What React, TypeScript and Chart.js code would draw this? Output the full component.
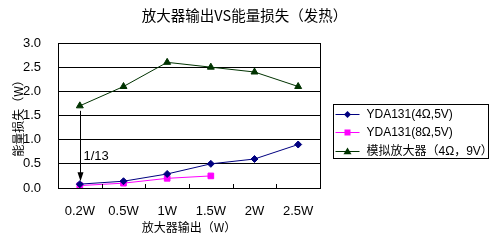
import React, { useEffect, useRef } from "react";
import { Chart, registerables } from "chart.js";

Chart.register(...registerables);

const TITLE = "放大器输出VS能量损失（发热）";
const X_TITLE = "放大器输出（W）";
const Y_TITLE = "能量损失（W）";
const CATEGORIES = ["0.2W", "0.5W", "1W", "1.5W", "2W", "2.5W"];
const SERIES_LABELS = ["YDA131(4Ω,5V)", "YDA131(8Ω,5V)", "模拟放大器（4Ω，9V）"];
const YDA_4OHM = [0.08, 0.14, 0.29, 0.5, 0.6, 0.9];
const YDA_8OHM = [0.05, 0.1, 0.2, 0.25, null, null];
const ANALOG = [1.7, 2.1, 2.6, 2.5, 2.4, 2.1];
const Y_MIN = 0;
const Y_MAX = 3;
const Y_STEP = 0.5;
const ANNOTATION_TEXT = "1/13";
const ANNOTATION_INDEX = 0;
const ANNOTATION_FROM = ANALOG[0];
const ANNOTATION_TO = YDA_4OHM[0];
const ANNOTATION_TEXT_Y = 0.66;

const LATIN = "'Liberation Sans', Arial, sans-serif";
const CJK = "'Noto Sans CJK SC', sans-serif";
const MIXED = "'Liberation Sans', 'Noto Sans CJK SC', sans-serif";

function drawMarker(ctx: CanvasRenderingContext2D, style: string, x: number, y: number, r: number, color: string) {
  ctx.save();
  ctx.fillStyle = color;
  ctx.beginPath();
  if (style === "rectRot") {
    ctx.moveTo(x, y - r);
    ctx.lineTo(x + r, y);
    ctx.lineTo(x, y + r);
    ctx.lineTo(x - r, y);
  } else if (style === "rect") {
    ctx.rect(x - r * 0.75, y - r * 0.75, r * 1.5, r * 1.5);
  } else {
    ctx.moveTo(x, y - r);
    ctx.lineTo(x + r, y + r * 0.7);
    ctx.lineTo(x - r, y + r * 0.7);
  }
  ctx.closePath();
  ctx.fill();
  ctx.restore();
}

const titlePlugin = {
  id: "centerTitle",
  afterDraw(chart: any) {
    const { ctx, width } = chart;
    ctx.save();
    ctx.fillStyle = "#000";
    ctx.font = `14.5px ${CJK}`;
    ctx.textAlign = "center";
    ctx.textBaseline = "middle";
    ctx.fillText(TITLE, width / 2 - 1, 15);
    ctx.restore();
  },
};

const framePlugin = {
  id: "frame",
  afterDraw(chart: any) {
    const { ctx, chartArea } = chart;
    const { left, right, top, bottom } = chartArea;
    ctx.save();
    ctx.strokeStyle = "#000";
    ctx.lineWidth = 1;
    ctx.strokeRect(Math.round(left) + 0.5, Math.round(top) + 0.5, Math.round(right - left), Math.round(bottom - top));
    const n = CATEGORIES.length;
    const w = (right - left) / n;
    ctx.beginPath();
    for (let i = 1; i < n; i++) {
      const x = Math.round(left + i * w) + 0.5;
      ctx.moveTo(x, bottom);
      ctx.lineTo(x, bottom - 4);
    }
    ctx.stroke();
    ctx.restore();
  },
};

const annotationPlugin = {
  id: "arrowNote",
  afterDatasetsDraw(chart: any) {
    const { ctx } = chart;
    const xs = chart.scales.x;
    const ys = chart.scales.y;
    const x = Math.round(xs.getPixelForValue(ANNOTATION_INDEX)) + 0.5;
    const y1 = ys.getPixelForValue(ANNOTATION_FROM) + 5;
    const y2 = ys.getPixelForValue(ANNOTATION_TO) - 3;
    ctx.save();
    ctx.strokeStyle = "#000";
    ctx.fillStyle = "#000";
    ctx.lineWidth = 1;
    ctx.beginPath();
    ctx.moveTo(x, y1);
    ctx.lineTo(x, y2 - 6);
    ctx.stroke();
    ctx.beginPath();
    ctx.moveTo(x - 3, y2 - 9);
    ctx.lineTo(x + 3, y2 - 9);
    ctx.lineTo(x, y2);
    ctx.closePath();
    ctx.fill();
    ctx.font = `13px ${LATIN}`;
    ctx.textBaseline = "middle";
    ctx.textAlign = "left";
    ctx.fillText(ANNOTATION_TEXT, x + 3, ys.getPixelForValue(ANNOTATION_TEXT_Y));
    ctx.restore();
  },
};

const legendPlugin = {
  id: "boxLegend",
  afterDraw(chart: any) {
    const { ctx } = chart;
    const bx = 333.5, by = 104.5, bw = 155, bh = 54;
    ctx.save();
    ctx.fillStyle = "#fff";
    ctx.fillRect(bx, by, bw, bh);
    ctx.strokeStyle = "#000";
    ctx.lineWidth = 1;
    ctx.strokeRect(bx, by, bw, bh);
    chart.data.datasets.forEach((ds: any, i: number) => {
      const y = Math.round(by + 9 + i * 18.5);
      ctx.strokeStyle = ds.borderColor;
      ctx.lineWidth = 1;
      ctx.beginPath();
      ctx.moveTo(bx + 2, y + 0.5);
      ctx.lineTo(bx + 26, y + 0.5);
      ctx.stroke();
      drawMarker(ctx, ds.pointStyle, bx + 14, y + 0.5, ds.pointRadius, ds.pointBackgroundColor);
      ctx.fillStyle = "#000";
      ctx.font = `12px ${MIXED}`;
      ctx.textBaseline = "middle";
      ctx.textAlign = "left";
      ctx.fillText(ds.label, bx + 33, y + 1);
    });
    ctx.restore();
  },
};

export default function App() {
  const ref = useRef<HTMLCanvasElement | null>(null);
  useEffect(() => {
    if (!ref.current) return;
    const chart = new Chart(ref.current, {
      type: "line",
      data: {
        labels: CATEGORIES,
        datasets: [
          {
            label: SERIES_LABELS[0],
            data: YDA_4OHM,
            borderColor: "#000080",
            backgroundColor: "#000080",
            pointBackgroundColor: "#000080",
            pointBorderColor: "#000080",
            pointStyle: "rectRot",
            pointRadius: 3.5,
            borderWidth: 1,
          },
          {
            label: SERIES_LABELS[1],
            data: YDA_8OHM,
            borderColor: "#FF00FF",
            backgroundColor: "#FF00FF",
            pointBackgroundColor: "#FF00FF",
            pointBorderColor: "#FF00FF",
            pointStyle: "rect",
            pointRadius: 4,
            borderWidth: 1,
          },
          {
            label: SERIES_LABELS[2],
            data: ANALOG,
            borderColor: "#003300",
            backgroundColor: "#003300",
            pointBackgroundColor: "#003300",
            pointBorderColor: "#003300",
            pointStyle: "triangle",
            pointRadius: 4,
            borderWidth: 1,
          },
        ],
      },
      options: {
        responsive: false,
        animation: false,
        layout: { padding: { left: 0, right: 171, top: 43, bottom: 0 } },
        plugins: {
          legend: { display: false },
          tooltip: { enabled: false },
          title: { display: false },
        },
        scales: {
          x: {
            type: "category",
            offset: true,
            grid: { display: false },
            border: { display: true, color: "#000" },
            ticks: { color: "#000", font: { family: LATIN, size: 13 }, padding: 8, maxRotation: 0 },
            title: {
              display: true,
              text: X_TITLE,
              color: "#000",
              font: { family: CJK, size: 12 },
              padding: { top: 0, bottom: 6 },
            },
            afterFit(scale: any) {
              scale.height = 53;
            },
          },
          y: {
            min: Y_MIN,
            max: Y_MAX,
            ticks: {
              stepSize: Y_STEP,
              color: "#000",
              font: { family: LATIN, size: 13 },
              padding: 17,
              callback: (v: any) => Number(v).toFixed(1),
            },
            grid: { color: "#000", drawTicks: false },
            border: { display: true, color: "#000" },
            title: {
              display: true,
              text: Y_TITLE,
              color: "#000",
              font: { family: CJK, size: 12 },
              padding: { top: 11, bottom: 0 },
            },
            afterFit(scale: any) {
              scale.width = 58;
            },
          },
        },
      },
      plugins: [framePlugin, annotationPlugin, legendPlugin, titlePlugin],
    });
    return () => chart.destroy();
  }, []);
  return (
    <div style={{ position: "fixed", left: 0, top: 0, width: 491, height: 241, background: "#fff" }}>
      <canvas ref={ref} width={491} height={241} />
    </div>
  );
}
